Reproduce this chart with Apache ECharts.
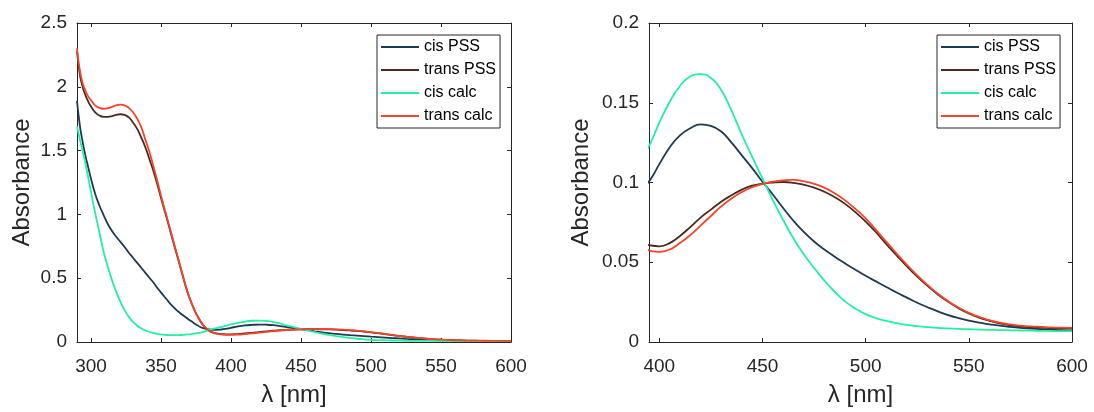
<!DOCTYPE html>
<html>
<head>
<meta charset="utf-8">
<title>Absorbance spectra</title>
<script src="https://cdn.jsdelivr.net/npm/echarts@6/dist/echarts.min.js"></script>
<style>
    html, body { margin: 0; padding: 0; background: #fff; }
    #chart { width: 1094px; height: 412px; }
</style>
</head>
<body>
<div id="chart"></div>
<script>
    // wavelength grid (nm), shared by all four spectra
    var wl = [290, 292, 294, 296, 298, 300, 303, 306, 309, 312, 315, 318, 321, 324, 327, 330, 333, 336, 339, 342,
        345, 348, 351, 354, 357, 360, 363, 366, 369, 372, 375, 378, 381, 384, 387, 390, 393, 396,
        400, 405, 410, 415, 420, 425, 430, 435, 440, 445, 450, 455, 460, 465, 470, 475, 480, 485, 490, 495, 500,
        505, 510, 515, 520, 525, 530, 535, 540, 545, 550, 555, 560, 565, 570, 575, 580, 585, 590, 595, 600];

    var cisPSS = [1.89, 1.70, 1.57, 1.46, 1.37, 1.28, 1.16, 1.07, 0.995, 0.925, 0.87, 0.825, 0.785, 0.745, 0.70, 0.66, 0.62, 0.58, 0.54, 0.50,
        0.46, 0.415, 0.375, 0.335, 0.295, 0.262, 0.233, 0.207, 0.183, 0.16, 0.138, 0.118, 0.106, 0.099, 0.096, 0.096, 0.098, 0.1025,
        0.1115, 0.122, 0.1295, 0.134, 0.1365, 0.1355, 0.132, 0.125, 0.117, 0.109, 0.1005, 0.0925, 0.084, 0.076, 0.069, 0.063, 0.058, 0.0535, 0.0493, 0.0453, 0.0415,
        0.038, 0.0345, 0.031, 0.0278, 0.0246, 0.0218, 0.0192, 0.0169, 0.015, 0.0134, 0.0121, 0.0111, 0.0102, 0.0095, 0.0089, 0.0084, 0.008, 0.0077, 0.0074, 0.0072];

    var transPSS = [2.28, 2.10, 2.00, 1.935, 1.885, 1.845, 1.80, 1.775, 1.765, 1.765, 1.77, 1.78, 1.785, 1.78, 1.76, 1.72, 1.67, 1.60, 1.52, 1.425,
        1.325, 1.21, 1.09, 0.975, 0.855, 0.735, 0.62, 0.50, 0.39, 0.30, 0.225, 0.165, 0.12, 0.09, 0.075, 0.067, 0.062, 0.0605,
        0.0600, 0.062, 0.0665, 0.072, 0.078, 0.083, 0.088, 0.092, 0.0955, 0.098, 0.0993, 0.1000, 0.1003, 0.0998, 0.0986, 0.0968, 0.0942, 0.0908, 0.0866, 0.0814, 0.0755,
        0.0688, 0.0614, 0.0543, 0.0474, 0.041, 0.0352, 0.0298, 0.0252, 0.0212, 0.0179, 0.0153, 0.0133, 0.0117, 0.0106, 0.0098, 0.0093, 0.009, 0.0087, 0.0086, 0.0085];

    var cisCalc = [1.69, 1.59, 1.50, 1.40, 1.29, 1.175, 1.01, 0.86, 0.707, 0.59, 0.485, 0.395, 0.315, 0.25, 0.197, 0.157, 0.128, 0.107, 0.09, 0.078,
        0.069, 0.062, 0.058, 0.055, 0.054, 0.054, 0.054, 0.056, 0.059, 0.062, 0.067, 0.074, 0.082, 0.092, 0.102, 0.110, 0.118, 0.1255,
        0.1375, 0.1505, 0.1605, 0.1665, 0.168, 0.1655, 0.158, 0.145, 0.130, 0.116, 0.1025, 0.089, 0.0765, 0.065, 0.055, 0.0465, 0.0385, 0.0315, 0.0255, 0.021, 0.0175,
        0.015, 0.0132, 0.0118, 0.0107, 0.0099, 0.0093, 0.0089, 0.0085, 0.0082, 0.008, 0.0078, 0.0076, 0.0075, 0.0073, 0.0072, 0.0071, 0.007, 0.0069, 0.0068, 0.0068];

    var transCalc = [2.30, 2.13, 2.03, 1.97, 1.925, 1.895, 1.855, 1.835, 1.828, 1.832, 1.842, 1.855, 1.86, 1.855, 1.835, 1.80, 1.75, 1.68, 1.58, 1.48,
        1.36, 1.235, 1.105, 0.985, 0.865, 0.745, 0.625, 0.505, 0.39, 0.30, 0.225, 0.168, 0.123, 0.093, 0.074, 0.064, 0.059, 0.057,
        0.0565, 0.058, 0.062, 0.067, 0.073, 0.079, 0.085, 0.090, 0.094, 0.097, 0.099, 0.1005, 0.1013, 0.1017, 0.1008, 0.0992, 0.0968, 0.0932, 0.0888, 0.0835, 0.0775,
        0.0703, 0.0628, 0.0555, 0.0484, 0.0418, 0.0358, 0.0303, 0.0256, 0.0216, 0.0183, 0.0157, 0.0137, 0.0121, 0.011, 0.0103, 0.0098, 0.0095, 0.0092, 0.009, 0.0089];

    var names = ['cis PSS', 'trans PSS', 'cis calc', 'trans calc'];
    var colors = ['#1d3a50', '#4a2a1f', '#22f0a4', '#f4442c'];
    var spectra = [cisPSS, transPSS, cisCalc, transCalc];

    var xTicksLeft = [300, 350, 400, 450, 500, 550, 600];
    var xTicksRight = [400, 450, 500, 550, 600];

    var axisColor = '#262626';
    var font = '"Liberation Sans", Arial, Helvetica, sans-serif';

    function pairs(vals) {
        return wl.map(function (x, i) { return [x, vals[i]]; });
    }

    function xAxisFor(gridIndex, min, ticks, position) {
        var main = position === 'bottom';
        return {
            type: 'value', gridIndex: gridIndex, position: position, min: min, max: 600,
            axisLine: { show: true, onZero: false, lineStyle: { color: axisColor, width: 1 } },
            axisTick: { show: true, inside: true, length: 4, customValues: ticks, lineStyle: { color: axisColor } },
            axisLabel: { show: main, customValues: ticks, margin: 15, color: axisColor, fontSize: 19, fontFamily: font },
            splitLine: { show: false },
            name: main ? 'λ [nm]' : '', nameLocation: 'middle', nameGap: 41,
            nameTextStyle: { color: axisColor, fontSize: 24, fontFamily: font }
        };
    }

    function yAxisFor(gridIndex, max, interval, position, gap) {
        var main = position === 'left';
        return {
            type: 'value', gridIndex: gridIndex, position: position, min: 0, max: max, interval: interval,
            axisLine: { show: true, onZero: false, lineStyle: { color: axisColor, width: 1 } },
            axisTick: { show: true, inside: true, length: 4, lineStyle: { color: axisColor } },
            axisLabel: { show: main, margin: 10, color: axisColor, fontSize: 19, fontFamily: font },
            splitLine: { show: false },
            name: main ? 'Absorbance' : '', nameLocation: 'middle', nameGap: gap,
            nameTextStyle: { color: axisColor, fontSize: 24, fontFamily: font }
        };
    }

    var series = [];
    [0, 1].forEach(function (g) {
        spectra.forEach(function (vals, i) {
            series.push({
                name: names[i], type: 'line', xAxisIndex: g * 2, yAxisIndex: g * 2,
                data: pairs(vals), smooth: true, symbol: 'none', clip: true,
                lineStyle: { color: colors[i], width: 1.8 }, itemStyle: { color: colors[i] },
                z: 2 + i
            });
        });
    });

    function legendAt(left) {
        return {
            data: names, orient: 'vertical', left: left, top: 35,
            icon: 'rect', itemWidth: 38, itemHeight: 2, itemGap: 7,
            padding: [4, 4, 4, 4],
            backgroundColor: '#fff', borderColor: axisColor, borderWidth: 1, borderRadius: 0,
            selectedMode: false,
            textStyle: { color: '#000', fontSize: 16, lineHeight: 15, fontFamily: font }
        };
    }

    var myChart = echarts.init(document.getElementById('chart'));
    var option = {
        backgroundColor: '#fff',
        animation: false,
        grid: [
            { left: 77, top: 23, width: 434, height: 321 },
            { left: 649, top: 23, width: 423, height: 321 }
        ],
        xAxis: [
            xAxisFor(0, 290, xTicksLeft, 'bottom'),
            xAxisFor(0, 290, xTicksLeft, 'top'),
            xAxisFor(1, 395, xTicksRight, 'bottom'),
            xAxisFor(1, 395, xTicksRight, 'top')
        ],
        yAxis: [
            yAxisFor(0, 2.5, 0.5, 'left', 43),
            yAxisFor(0, 2.5, 0.5, 'right', 0),
            yAxisFor(1, 0.2, 0.05, 'left', 56),
            yAxisFor(1, 0.2, 0.05, 'right', 0)
        ],
        legend: [legendAt(377), legendAt(937)],
        series: series
    };
    myChart.setOption(option);
</script>
</body>
</html>
